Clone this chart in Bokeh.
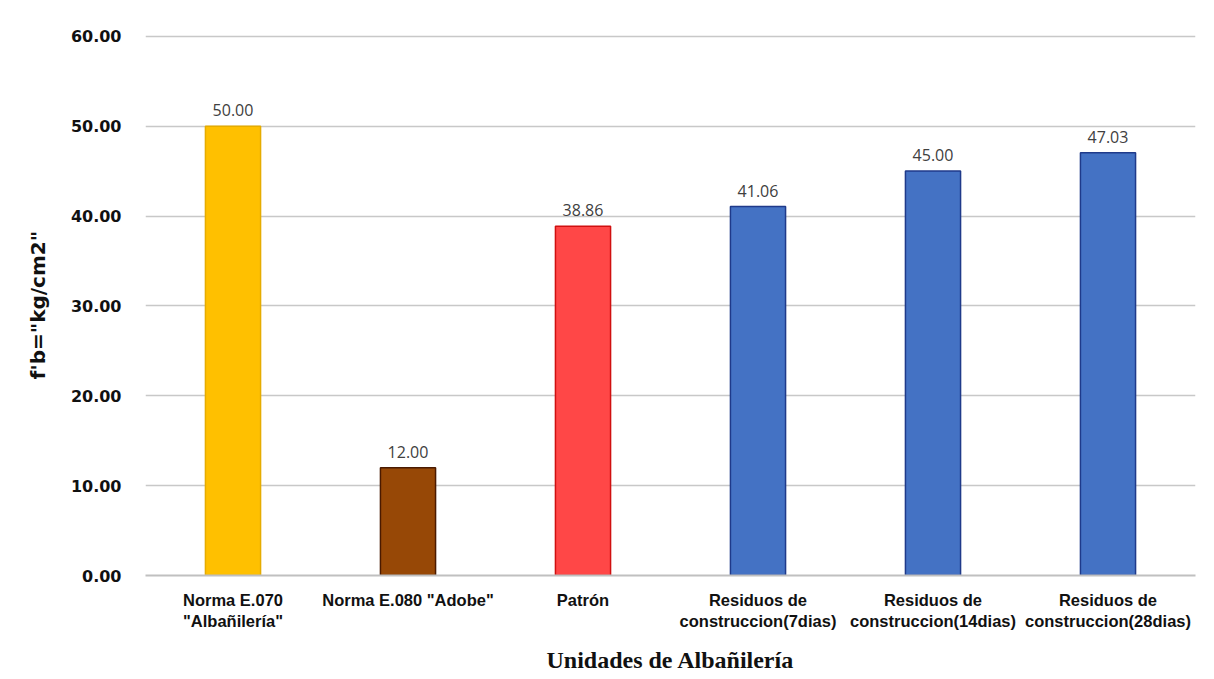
from bokeh.plotting import figure
from bokeh.models import ColumnDataSource, NumeralTickFormatter, FixedTicker, LabelSet, Range1d
from bokeh.core.properties import value
from bokeh.embed import file_html
from bokeh.resources import INLINE

categories = ['Norma E.070\n"Albañilería"', 'Norma E.080 "Adobe"', 'Patrón',
              'Residuos de\nconstruccion(7dias)', 'Residuos de\nconstruccion(14dias)',
              'Residuos de\nconstruccion(28dias)']
values = [50.00, 12.00, 38.86, 41.06, 45.00, 47.03]
labels = ["50.00", "12.00", "38.86", "41.06", "45.00", "47.03"]
fills = ["#FFC000", "#974806", "#FF4747", "#4472C4", "#4472C4", "#4472C4"]
edges = ["#E6AC00", "#4A1A00", "#D01010", "#1F3A8A", "#1F3A8A", "#1F3A8A"]
y_ticks = [0, 10, 20, 30, 40, 50, 60]

src = ColumnDataSource(dict(x=categories, top=values, label=labels, fill=fills, edge=edges))

p = figure(x_range=categories, y_range=Range1d(0, 60.2), width=1214, height=679,
           output_backend="svg", toolbar_location=None,
           min_border_left=145, min_border_right=19, min_border_top=34, min_border_bottom=104)

p.vbar(x="x", top="top", width=0.315, source=src, fill_color="fill",
       line_color="edge", line_width=1.5)

p.add_layout(LabelSet(x="x", y="top", text="label", source=src, text_align="center",
                      text_baseline="bottom", y_offset=10, text_font_size="16px",
                      text_font=value("Open Sans"), text_color="#404040"))

p.outline_line_color = None
p.background_fill_color = "white"
p.border_fill_color = "white"
p.xgrid.grid_line_color = None
p.ygrid.grid_line_color = "#C8C8C8"
p.ygrid.grid_line_width = 1.5
p.yaxis.ticker = FixedTicker(ticks=y_ticks)
p.yaxis.formatter = NumeralTickFormatter(format="0.00")
p.yaxis.axis_line_color = None
p.yaxis.major_tick_line_color = None
p.yaxis.minor_tick_line_color = None
p.yaxis.major_label_text_font_style = "bold"
p.yaxis.major_label_text_font_size = "16px"
p.yaxis.major_label_text_font = "DejaVu Sans"
p.yaxis.major_label_text_color = "#111111"
p.yaxis.major_label_standoff = 18
p.yaxis.axis_label = 'f\'b="kg/cm2"'
p.yaxis.axis_label_text_font = "DejaVu Sans"
p.yaxis.axis_label_text_font_size = "20px"
p.yaxis.axis_label_text_font_style = "bold"
p.yaxis.axis_label_text_color = "#111111"
p.yaxis.axis_label_standoff = 18

p.xaxis.axis_line_color = "#C0C0C0"
p.xaxis.axis_line_width = 2
p.xaxis.major_tick_line_color = None
p.xaxis.minor_tick_line_color = None
p.xaxis.major_label_text_font = "Liberation Sans"
p.xaxis.major_label_text_font_style = "bold"
p.xaxis.major_label_text_font_size = "16.5px"
p.xaxis.major_label_text_color = "#111111"
p.xaxis.major_label_standoff = 9
p.xaxis.axis_label = "Unidades de Albañilería"
p.xaxis.axis_label_text_font = "Liberation Serif"
p.xaxis.axis_label_text_font_style = "bold"
p.xaxis.axis_label_text_font_size = "24px"
p.xaxis.axis_label_text_color = "#111111"
p.xaxis.axis_label_standoff = 14

open("out.html", "w").write(file_html(p, INLINE))
